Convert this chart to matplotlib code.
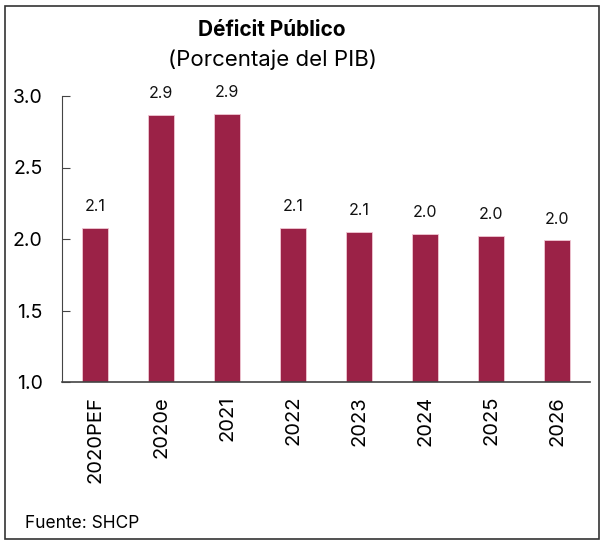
import matplotlib.pyplot as plt
from matplotlib.patches import Rectangle

plt.rcParams['font.family'] = ['Inter', 'DejaVu Sans']

categorias = ['2020PEF', '2020e', '2021', '2022', '2023', '2024', '2025', '2026']
valores = [2.08, 2.865, 2.872, 2.08, 2.05, 2.035, 2.02, 1.99]
etiquetas = ['2.1', '2.9', '2.9', '2.1', '2.1', '2.0', '2.0', '2.0']

color_barra = '#9B2247'

fig = plt.figure(figsize=(6.04, 5.42), dpi=100)
ax = fig.add_axes([62/604, 160/542, (590-62)/604, (382-96)/542])

x = range(len(categorias))
ax.bar(x, valores, width=0.4, bottom=0, color=color_barra,
       edgecolor='#f0c8d4', linewidth=0.6)

for i, v in enumerate(valores):
    ax.annotate(etiquetas[i], (i, v), xytext=(0, 10), textcoords='offset points',
                ha='center', va='bottom', fontsize=11.5, color='#111111')

ax.set_ylim(1.0, 3.0)
ax.set_xlim(-0.5, 7.5)
ax.set_yticks([1.0, 1.5, 2.0, 2.5, 3.0])
ax.set_yticklabels(['1.0', '1.5', '2.0', '2.5', '3.0'], fontsize=14)
ax.set_xticks(list(x))
ax.set_xticklabels(categorias, rotation=90, fontsize=14.5)

ax.tick_params(axis='y', direction='in', length=6, pad=14, color='#444444')
ax.tick_params(axis='x', length=0, pad=10)
for s in ['top', 'right']:
    ax.spines[s].set_visible(False)
ax.spines['left'].set_color('#444444')
ax.spines['bottom'].set_color('#444444')
ax.spines['bottom'].set_linewidth(1.2)

fig.text(272/604, 1 - 30/542, 'Déficit Público', ha='center', va='center',
         fontsize=15, fontweight='bold')
fig.text(272/604, 1 - 60/542, '(Porcentaje del PIB)', ha='center', va='center',
         fontsize=16)
fig.text(25/604, 1 - 523/542, 'Fuente: SHCP', ha='left', va='center', fontsize=12.5)

fig.patches.append(Rectangle((5/604, 3/542), 594/604, 533/542, transform=fig.transFigure,
                             fill=False, edgecolor='#333333', linewidth=1.2))

fig.savefig('out.png', dpi=100)
